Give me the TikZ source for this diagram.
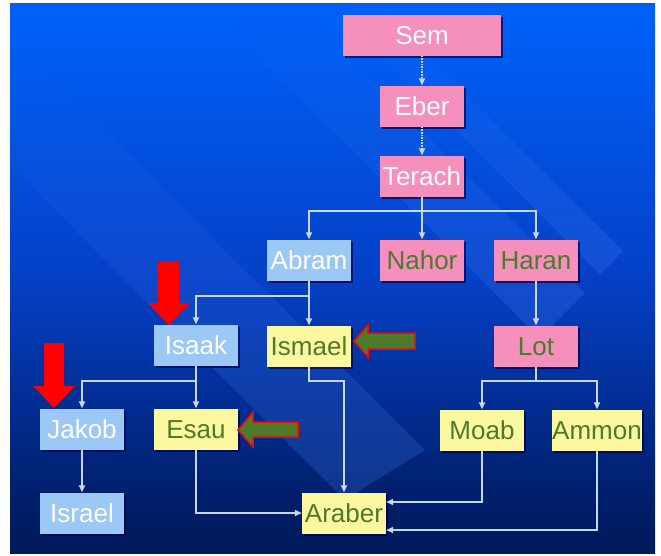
\documentclass[tikz,border=0pt]{standalone}
\usepackage{fontspec}
\setmainfont{Liberation Sans}
\usetikzlibrary{arrows.meta}
\usetikzlibrary{shadows}
\usetikzlibrary{fadings}

\definecolor{famPink}{RGB}{245,143,188}
\definecolor{famBlue}{RGB}{155,200,245}
\definecolor{famYellow}{RGB}{252,248,160}
\definecolor{leafgreen}{RGB}{78,122,44}
\definecolor{linkblue}{RGB}{200,215,240}
\definecolor{stripeblue}{RGB}{80,140,255}

\pgfdeclareverticalshading{nightsky}{100bp}{rgb(0bp)=(0,0.015,0.07); rgb(12bp)=(0,0.04,0.17); rgb(30bp)=(0,0.12,0.42); rgb(50bp)=(0.02,0.25,0.78); rgb(72bp)=(0,0.37,0.96); rgb(100bp)=(0,0.4,1)}

\tikzset{
	person/.style={minimum width=84pt,minimum height=41pt,inner sep=0pt,text height=18.6pt,text depth=0pt,
		font=\fontsize{26}{30}\selectfont,
		drop shadow={shadow xshift=2pt,shadow yshift=-2pt,fill=black!70!blue,opacity=.7}},
	pinkbox/.style={person,fill=famPink},
	bluebox/.style={person,fill=famBlue,text=white},
	yellowbox/.style={person,fill=famYellow,text=leafgreen},
	whitename/.style={text=white},
	greenname/.style={text=leafgreen},
	link/.style={draw=linkblue,line width=1.6pt,-{Triangle[length=7pt,width=6pt]}},
	stripe/.style={fill=stripeblue,fill opacity=.22,path fading=north},
}

\begin{document}
\begin{tikzpicture}[x=1pt,y=-1pt]
	\useasboundingbox (0,0) rectangle (661,555);
	\shade[shading=nightsky] (10,3) rectangle (655,553);
	% light bands in the background
	\begin{scope}
		\clip (10,3) rectangle (655,553);
		\fill[stripe] (10,35) -- (425,450) -- (345,500) -- (10,165) -- cycle;
		\fill[stripe] (295,3) -- (585,293) -- (540,338) -- (205,3) -- cycle;
		\fill[stripe] (375,3) -- (623,251) -- (600,274) -- (329,3) -- cycle;
	\end{scope}

	\node[pinkbox,whitename,minimum width=158pt] (sem) at (422,35) {Sem};
	\node[pinkbox,whitename] (eber) at (422,106) {Eber};
	\node[pinkbox,whitename] (terach) at (422,176) {Terach};
	\node[bluebox] (abram) at (309,260) {Abram};
	\node[pinkbox,greenname] (nahor) at (422,260) {Nahor};
	\node[pinkbox,greenname] (haran) at (536,260) {Haran};
	\node[bluebox] (isaak) at (196,345) {Isaak};
	\node[yellowbox] (ismael) at (309,346) {Ismael};
	\node[pinkbox,greenname] (lot) at (536,346) {Lot};
	\node[bluebox] (jakob) at (82,429) {Jakob};
	\node[yellowbox] (esau) at (196,429) {Esau};
	\node[yellowbox] (moab) at (482,430) {Moab};
	\node[yellowbox,minimum width=87pt] (ammon) at (597,430) {Ammon};
	\node[bluebox] (israel) at (82,513) {Israel};
	\node[yellowbox] (araber) at (344,513) {Araber};

	\draw[link,densely dotted] (sem) -- (eber);
	\draw[link,densely dotted] (eber) -- (terach);
	\draw[link] (terach) -- (nahor);
	\draw[link] (terach.south) -- ++(0,14) -| (abram.north);
	\draw[link] (terach.south) -- ++(0,14) -| (haran.north);
	\draw[link] (abram) -- (ismael);
	\draw[link] (abram.south) -- ++(0,15) -| (isaak.north);
	\draw[link] (haran) -- (lot);
	\draw[link] (isaak) -- (esau);
	\draw[link] (isaak.south) -- ++(0,15) -| (jakob.north);
	\draw[link] (lot.south) -- ++(0,14) -| (moab.north);
	\draw[link] (lot.south) -- ++(0,14) -| (ammon.north);
	\draw[link] (jakob) -- (israel);
	\draw[link] (ismael.south) -- ++(0,14) -| (araber.north);
	\draw[link] (esau.south) |- (araber.west);
	\draw[link] (moab.south) |- ([yshift=11pt]araber.east);
	\draw[link] (ammon.south) |- ([yshift=-17pt]araber.east);

	% red arrows
	\fill[red] (158,262) -- (179,262) -- (179,303) -- (190,303) -- (168.5,325) -- (148,303) -- (158,303) -- cycle;
	\fill[red] (44,343) -- (64,343) -- (64,386) -- (75,386) -- (54,408) -- (33,386) -- (44,386) -- cycle;
	% green arrows
	\filldraw[fill=leafgreen,draw=red,line width=1.5pt] (354,341) -- (368,325) -- (368,333) -- (415,333) -- (415,349) -- (368,349) -- (368,357) -- cycle;
	\filldraw[fill=leafgreen,draw=red,line width=1.5pt] (238,430) -- (253,412) -- (253,422) -- (298,422) -- (298,437) -- (253,437) -- (253,447) -- cycle;
\end{tikzpicture}
\end{document}
